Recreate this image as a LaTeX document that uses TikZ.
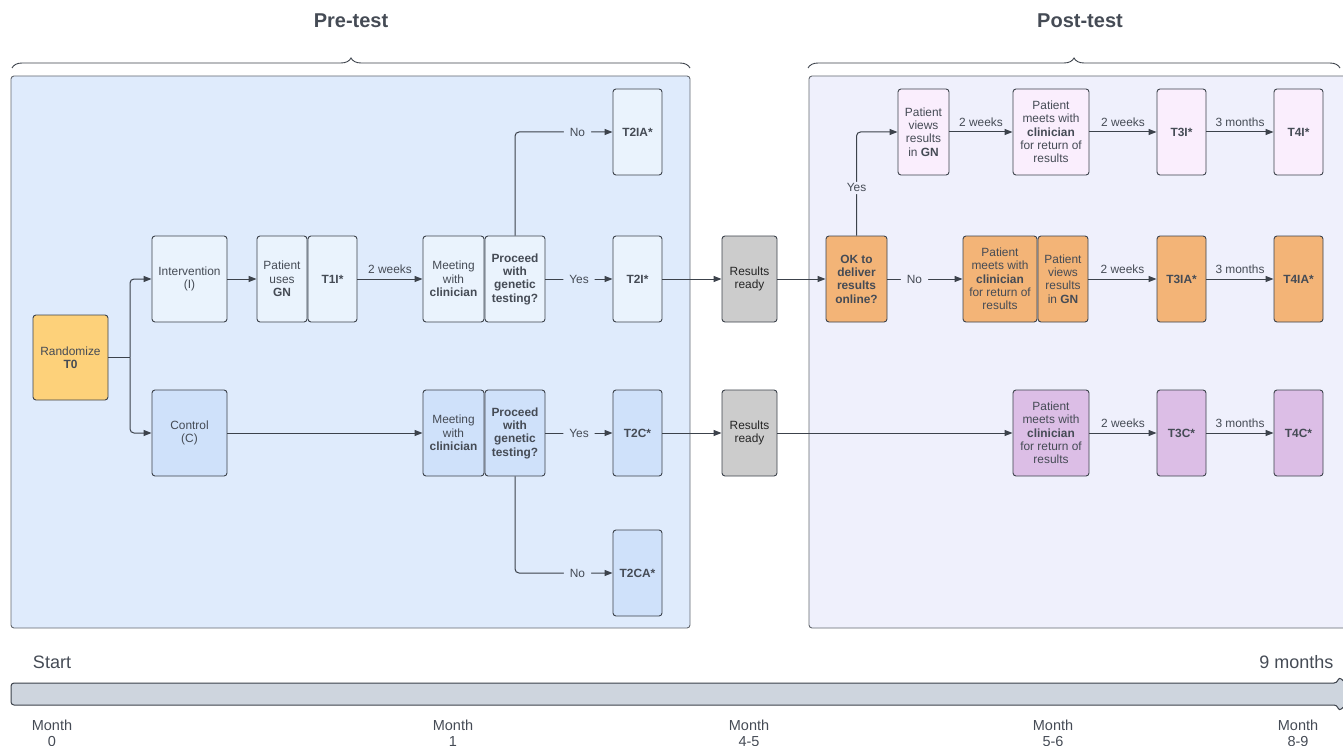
\documentclass[tikz,border=0pt]{standalone}
\usepackage{fontspec}
\setmainfont{Liberation Sans}
\usetikzlibrary{arrows.meta, positioning, decorations.pathreplacing}

\definecolor{linec}{HTML}{3C424B}
\definecolor{textc}{HTML}{454B55}
\definecolor{prefill}{HTML}{DFEBFC}
\definecolor{postfill}{HTML}{EFF0FC}
\definecolor{ilight}{HTML}{EAF3FD}
\definecolor{cblue}{HTML}{CFE1FA}
\definecolor{randc}{HTML}{FDD17A}
\definecolor{readyc}{HTML}{CCCCCC}
\definecolor{orangec}{HTML}{F3B477}
\definecolor{pinkc}{HTML}{FAEEFD}
\definecolor{purplec}{HTML}{DCBEE6}
\definecolor{tlinec}{HTML}{CED5DE}

\begin{document}
\begin{tikzpicture}[x=1pt, y=-1pt,
        box/.style={draw=linec, line width=0.9pt, rounded corners=3pt, minimum height=86pt, align=center, inner sep=1pt, text=textc, font=\fontsize{11.9}{13.3}\selectfont},
        bold/.style={font=\fontsize{11.9}{13.3}\selectfont\bfseries},
        tbox/.style={box, bold, minimum width=49pt},
        conn/.style={draw=linec, line width=1pt, rounded corners=4pt},
        arr/.style={conn, -{Triangle[length=8pt, width=6pt]}},
        wk/.style={above=4pt, inner sep=1pt, text=textc, font=\fontsize{11.9}{13}\selectfont},
        gap/.style={fill=prefill, inner xsep=6pt, inner ysep=3pt, text=textc, font=\fontsize{11.9}{13}\selectfont},
        panel/.style={draw=linec!80, line width=0.9pt, rounded corners=3pt},
        brace/.style={decorate, decoration={brace, amplitude=10pt}, draw=linec, line width=0.9pt},
        title/.style={text=textc, font=\fontsize{20}{23}\selectfont\bfseries},
        mo/.style={align=center, text=textc, font=\fontsize{14.5}{16}\selectfont}
    ]
        \clip (0,0) rectangle (1343,746);

        % --- Phase panels ---
        \draw[panel, fill=prefill] (11,76) rectangle (690,628);
        \draw[panel, fill=postfill] (809,76) rectangle (1360,628);
        \draw[brace] (12,68) -- (690,68);
        \draw[brace] (808,68) -- (1340,68);
        \node[title] (pretitle) at (351,21) {Pre-test};
        \node[title] (posttitle) at (1080,21) {Post-test};

        % --- Randomization ---
        \node[box, fill=randc, minimum width=75pt, minimum height=85pt] (rand) at (70.5,357.5) {Randomize\\\textbf{T0}};
        \node[box, fill=ilight, minimum width=75pt] (interv) at (189.5,279) {Intervention\\(I)};
        \node[box, fill=cblue, minimum width=75pt] (ctrl) at (189.5,433) {Control\\(C)};

        % --- Intervention arm (pre-test) ---
        \node[box, fill=ilight, minimum width=50pt] (uses) at (282,279) {Patient\\uses\\\textbf{GN}};
        \node[tbox, fill=ilight] (t1i) at (332.5,279) {T1I*};
        \node[box, fill=ilight, minimum width=61pt] (meetI) at (453.5,279) {Meeting\\with\\\textbf{clinician}};
        \node[box, bold, fill=ilight, minimum width=60pt] (procI) at (515,279) {Proceed\\with\\genetic\\testing?};
        \node[tbox, fill=ilight] (t2ia) at (637.5,132) {T2IA*};
        \node[tbox, fill=ilight] (t2i) at (637.5,279) {T2I*};

        % --- Control arm (pre-test) ---
        \node[box, fill=cblue, minimum width=61pt] (meetC) at (453.5,433) {Meeting\\with\\\textbf{clinician}};
        \node[box, bold, fill=cblue, minimum width=60pt] (procC) at (515,433) {Proceed\\with\\genetic\\testing?};
        \node[tbox, fill=cblue] (t2c) at (637.5,433) {T2C*};
        \node[tbox, fill=cblue] (t2ca) at (637.5,573) {T2CA*};

        % --- Results ---
        \node[box, fill=readyc, minimum width=55pt, text=black!85] (readyI) at (749.5,279) {Results\\ready};
        \node[box, fill=readyc, minimum width=55pt, text=black!85] (readyC) at (749.5,433) {Results\\ready};

        % --- Post-test ---
        \node[box, bold, fill=orangec, minimum width=61pt] (ok) at (856.5,279) {OK to\\deliver\\results\\online?};
        \node[box, fill=pinkc, minimum width=51pt] (viewsI) at (923.5,132) {Patient\\views\\results\\in \textbf{GN}};
        \node[box, fill=pinkc, minimum width=76pt] (meetsI) at (1051,132) {Patient\\meets with\\\textbf{clinician}\\for return of\\results};
        \node[tbox, fill=pinkc] (t3i) at (1181.5,132) {T3I*};
        \node[tbox, fill=pinkc] (t4i) at (1298.5,132) {T4I*};
        \node[box, fill=orangec, minimum width=74pt] (meetsIA) at (1000,279) {Patient\\meets with\\\textbf{clinician}\\for return of\\results};
        \node[box, fill=orangec, minimum width=50pt] (viewsIA) at (1063,279) {Patient\\views\\results\\in \textbf{GN}};
        \node[tbox, fill=orangec] (t3ia) at (1181.5,279) {T3IA*};
        \node[tbox, fill=orangec] (t4ia) at (1298.5,279) {T4IA*};
        \node[box, fill=purplec, minimum width=76pt] (meetsC) at (1051,433) {Patient\\meets with\\\textbf{clinician}\\for return of\\results};
        \node[tbox, fill=purplec] (t3c) at (1181.5,433) {T3C*};
        \node[tbox, fill=purplec] (t4c) at (1298.5,433) {T4C*};

        % --- Connectors ---
        \coordinate (fork) at (130,357.5);
        \draw[conn] (rand.east) -- (fork);
        \draw[arr] (fork) |- (interv.west);
        \draw[arr] (fork) |- (ctrl.west);
        \draw[arr] (interv) -- (uses);
        \draw[arr] (t1i) -- node[wk] {2 weeks} (meetI);
        \draw[arr] (ctrl) -- (meetC);
        \draw[arr] (procI) -- node[gap] {Yes} (t2i);
        \draw[arr] (procI.north) |- node[gap, pos=0.82] {No} (t2ia.west);
        \draw[arr] (procC) -- node[gap] {Yes} (t2c);
        \draw[arr] (procC.south) |- node[gap, pos=0.82] {No} (t2ca.west);
        \draw[arr] (t2i) -- (readyI);
        \draw[arr] (t2c) -- (readyC);
        \draw[arr] (readyI) -- (ok);
        \draw[arr] (ok.north) |- node[gap, fill=postfill, inner ysep=2pt, pos=0.23] {Yes} (viewsI.west);
        \draw[arr] (ok) -- node[gap, fill=postfill, pos=0.36] {No} (meetsIA);
        \draw[arr] (viewsI) -- node[wk] {2 weeks} (meetsI);
        \draw[arr] (meetsI) -- node[wk] {2 weeks} (t3i);
        \draw[arr] (t3i) -- node[wk] {3 months} (t4i);
        \draw[arr] (viewsIA) -- node[wk] {2 weeks} (t3ia);
        \draw[arr] (t3ia) -- node[wk] {3 months} (t4ia);
        \draw[arr] (readyC) -- (meetsC);
        \draw[arr] (meetsC) -- node[wk] {2 weeks} (t3c);
        \draw[arr] (t3c) -- node[wk] {3 months} (t4c);

        % --- Timeline ---
        \draw[draw=linec, line width=1pt, fill=tlinec, rounded corners=3pt]
            (1337,683) -- (11,683) -- (11,705) -- (1337,705) -- (1339,711) -- (1358,694) -- (1339,677) -- cycle;
        \node[text=textc, font=\fontsize{18}{21}\selectfont] (start) at (52,662) {Start};
        \node[text=textc, font=\fontsize{18}{21}\selectfont, anchor=east] (finish) at (1337,662) {9 months};
        \foreach \x/\m [count=\i] in {52/0, 453/1, 749/4-5, 1053/5-6, 1298/8-9} {
            \node[mo] (month\i) at (\x,733) {Month\\\m};
        }

    \end{tikzpicture}
\end{document}
